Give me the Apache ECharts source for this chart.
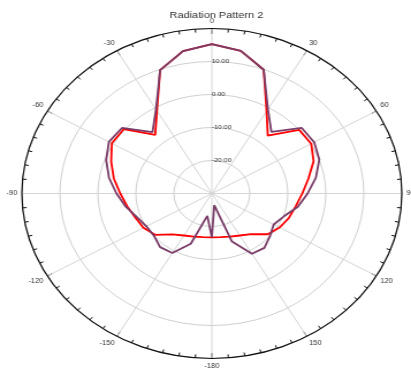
<!DOCTYPE html>
<html>
<head>
<meta charset="utf-8">
<script src="https://cdn.jsdelivr.net/npm/echarts@6/dist/echarts.min.js"></script>
<style>
  html, body { margin: 0; padding: 0; background: #fff; overflow: hidden; }
  #wrap { width: 411px; height: 372px; overflow: hidden; position: relative; }
  /* the plot is laid out on a narrower canvas and widened, giving the elliptical frame */
  #chart { width: 357px; height: 372px; transform: scaleX(1.1513); transform-origin: 0 0; }
</style>
</head>
<body>
<div id="wrap"><div id="chart"></div></div>
<script>
// Angles in degrees, 10 degree steps from -180 to 180
const angles = [-180, -170, -160, -150, -140, -130, -120, -110, -100, -90,
  -80, -70, -60, -50, -40, -30, -20, -10, 0, 10, 20, 30, 40, 50, 60, 70, 80,
  90, 100, 110, 120, 130, 140, 150, 160, 170, 180];

// Gain in dB for the two measured cuts
const patternA = [-16.7, -16.6, -16.1, -15.3, -13.8, -10.5, -9.2, -8.6, -7.4, -5.9,
  -3.8, -1.8, 0.4, 0.3, -6.8, -1.1, 9.8, 13.8, 15.3, 13.9, 9.9, -1.2, -7.1, 0.0, 0.2,
  -1.5, -4.2, -6.2, -7.6, -8.4, -9.4, -10.8, -13.9, -15.3, -16.1, -16.6, -16.7];

const patternB = [-16.7, -23.1, -13.8, -9.2, -8.8, -10.1, -10.1, -9.0, -7.0, -4.9,
  -2.5, -0.4, 1.3, 0.9, -5.7, -0.6, 9.8, 13.8, 15.3, 13.9, 9.9, -0.5, -5.6, 0.9, 1.1,
  0.1, -2.2, -4.8, -7.0, -9.8, -11.2, -10.0, -8.5, -8.9, -14.5, -26.4, -16.7];

const radialMin = -30, radialMax = 20, radialStep = 10;
const angleStep = 30;

// the angle axis runs 0..360 clockwise from the top; negative bearings wrap round
function wrap(a) { return a < 0 ? a + 360 : a; }
function bearingLabel(v) {
  if (v === 360) return '';
  if (v >= 180) return String(v - 360);
  return String(v);
}
function pairs(values) {
  return values.map((v, i) => [v, wrap(angles[i])]);
}

const chart = echarts.init(document.getElementById('chart'), null, { renderer: 'canvas' });

chart.setOption({
  animation: false,
  backgroundColor: '#ffffff',
  title: {
    text: 'Radiation Pattern 2',
    left: 183,
    top: 5,
    textAlign: 'center',
    textStyle: { fontSize: 9.5, fontWeight: 'normal', color: '#333', fontFamily: 'Liberation Sans, Arial, sans-serif' }
  },
  polar: { center: [184, 193.5], radius: 165 },
  angleAxis: {
    type: 'value',
    min: 0,
    max: 360,
    interval: angleStep,
    startAngle: 90,
    clockwise: true,
    axisLine: { show: true, lineStyle: { color: '#111', width: 1.2 } },
    axisTick: { show: true, inside: true, length: 5.5, lineStyle: { color: '#111', width: 1 } },
    minorTick: { show: true, splitNumber: 6, length: 3.5, lineStyle: { color: '#111', width: 1 } },
    axisLabel: {
      show: true,
      margin: 4,
      fontSize: 6.5,
      color: '#333',
      fontFamily: 'Liberation Sans, Arial, sans-serif',
      formatter: bearingLabel
    },
    splitLine: { show: true, lineStyle: { color: '#d6d6d6', width: 1 } }
  },
  radiusAxis: {
    type: 'value',
    min: radialMin,
    max: radialMax,
    interval: radialStep,
    axisLine: { show: false },
    axisTick: { show: false },
    axisLabel: {
      show: true,
      showMinLabel: false,
      showMaxLabel: false,
      fontSize: 6,
      color: '#333',
      margin: 0,
      align: 'left',
      verticalAlign: 'middle',
      fontFamily: 'Liberation Sans, Arial, sans-serif',
      formatter: v => v.toFixed(2)
    },
    splitLine: { show: true, lineStyle: { color: '#d0d0d0', width: 1 } }
  },
  series: [
    {
      name: 'A',
      type: 'line',
      coordinateSystem: 'polar',
      showSymbol: false,
      data: pairs(patternA),
      lineStyle: { color: '#ff0000', width: 1.8 },
      itemStyle: { color: '#ff0000' }
    },
    {
      name: 'B',
      type: 'line',
      coordinateSystem: 'polar',
      showSymbol: false,
      data: pairs(patternB),
      lineStyle: { color: '#7a3d68', width: 1.8 },
      itemStyle: { color: '#7a3d68' }
    }
  ]
});
</script>
</body>
</html>
